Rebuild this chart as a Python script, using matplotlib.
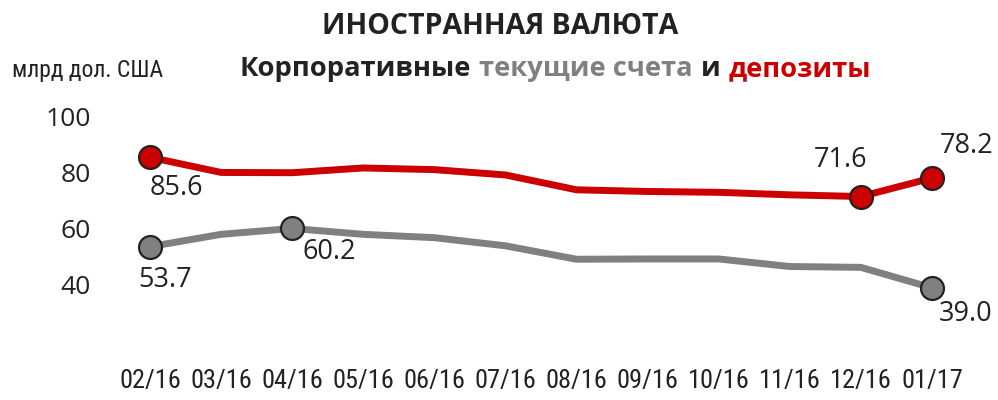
import matplotlib
matplotlib.use("Agg")
import matplotlib.pyplot as plt
from matplotlib.offsetbox import TextArea, HPacker, AnnotationBbox
from matplotlib import font_manager

# данные
months = ['02/16', '03/16', '04/16', '05/16', '06/16', '07/16',
          '08/16', '09/16', '10/16', '11/16', '12/16', '01/17']
deposits = [85.6, 80.2, 80.1, 81.8, 81.2, 79.3, 74.0, 73.4, 73.1, 72.2, 71.6, 78.2]
current = [53.7, 58.1, 60.2, 58.1, 56.9, 54.0, 49.2, 49.3, 49.3, 46.6, 46.3, 39.0]
yticks = [40, 60, 80, 100]

# точки с маркерами и подписями: (индекс, смещение подписи в pt)
dep_marks = {0: (19, -22), 10: (-15, 26), 11: (25, 23)}
cur_marks = {0: (11, -24), 2: (27, -17), 11: (24, -19)}

RED = '#cc0000'
GREY = '#808080'
DARK = '#222222'

# ищем узкий шрифт
fonts = font_manager.fontManager.ttflist
names = {f.name for f in fonts}
narrow, stretch = None, 'normal'
for n in ['Roboto Condensed', 'Liberation Sans Narrow', 'Open Sans Condensed',
          'DejaVu Sans Condensed', 'Noto Sans Condensed']:
    if n in names:
        narrow = n
        break
if narrow is None:
    cond = [f for f in fonts if str(f.stretch) in ('condensed', 'semi-condensed', '500', '300')
            and f.weight in ('normal', 400)]
    if cond:
        narrow, stretch = cond[0].name, cond[0].stretch
    else:
        narrow = 'Open Sans'
narrow_kw = dict(family=[narrow, 'DejaVu Sans'], fontstretch=stretch)

plt.rcParams['font.family'] = ['Open Sans', 'DejaVu Sans']

fig = plt.figure(figsize=(9.98, 4.0), dpi=100)
ax = fig.add_axes([0.1147, 0.1475, 0.8547, 0.595])

x = list(range(len(months)))
ax.plot(x, current, color=GREY, lw=5, solid_joinstyle='miter', zorder=2)
ax.plot(x, deposits, color=RED, lw=5, solid_joinstyle='miter', zorder=2)

for series, marks, col in [(deposits, dep_marks, RED), (current, cur_marks, GREY)]:
    idx = list(marks.keys())
    ax.plot(idx, [series[i] for i in idx], 'o', ms=16.5, mfc=col, mec=DARK,
            mew=1.6, zorder=3)
    for i, off in marks.items():
        ax.annotate(f'{series[i]:.1f}', (i, series[i]), xytext=off,
                    textcoords='offset points', ha='center', va='center',
                    fontsize=19.5, color=DARK)

ax.set_xlim(-0.5, 11.5)
ax.set_ylim(20, 105)
ax.set_yticks(yticks)
ax.set_yticklabels([str(v) for v in yticks], fontsize=19, color=DARK)
ax.set_xticks(x)
ax.set_xticklabels(months, fontsize=19, color=DARK, **narrow_kw)
ax.tick_params(axis='y', length=0, pad=17)
ax.tick_params(axis='x', length=0, pad=20)
for s in ax.spines.values():
    s.set_visible(False)

fig.text(0.501, 0.935, 'ИНОСТРАННАЯ ВАЛЮТА', ha='center', va='center',
         fontsize=20.5, fontweight='bold', color=DARK)
fig.text(0.012, 0.825, 'млрд дол. США', ha='left', va='center',
         fontsize=17, color=DARK, **narrow_kw)

parts = [('Корпоративные', DARK), ('текущие счета', GREY), ('и', DARK), ('депозиты', RED)]
boxes = [TextArea(t, textprops=dict(color=c, fontsize=19.7, fontweight='bold'))
         for t, c in parts]
pack = HPacker(children=boxes, align='baseline', pad=0, sep=6)
ab = AnnotationBbox(pack, (0.5565, 0.828), xycoords='figure fraction',
                    frameon=False, box_alignment=(0.5, 0.5))
fig.add_artist(ab)

fig.savefig('out.png', dpi=100)
